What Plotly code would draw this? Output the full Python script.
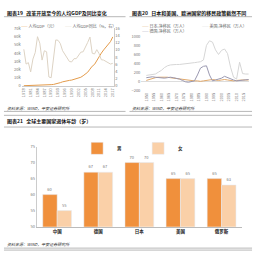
import plotly.graph_objects as go

FONT = "Noto Sans CJK SC"

# ---- Chart 19: GDP per capita and growth ----
gdp_years = list(range(1978, 2018))
gdp_pc = [385, 423, 468, 497, 533, 588, 702, 866, 973, 1123, 1378, 1536, 1663, 1912,
          2334, 3027, 4081, 5091, 5898, 6481, 6860, 7229, 7942, 8717, 9506, 10666,
          12487, 14368, 16738, 20505, 24121, 26222, 30876, 36403, 40007, 43852, 47203,
          50251, 53935, 59660]
gdp_growth = [10.2, 6.1, 6.5, 3.9, 7.5, 9.3, 13.7, 11.9, 7.2, 9.8, 9.5, 2.5, 2.3, 7.7,
              12.8, 12.7, 11.8, 9.8, 8.8, 8.1, 6.8, 6.7, 7.6, 7.6, 8.4, 9.4, 9.5, 10.7,
              12.1, 13.6, 9.1, 8.9, 10.1, 9.0, 7.3, 7.2, 6.8, 6.4, 6.1, 6.3]

# ---- Chart 20: net migration ----
mig_years = list(range(1950, 2019, 2))
japan = [30, 50, 80, 90, 100, 100, 110, 100, 90, 80, 70, 60, 50, 40, 30, 30, 20, 20,
         10, 20, 30, 40, 50, 40, 30, 40, 50, 40, 30, 20, 30, 40, 40, 40, 40]
usa = [140, 150, 155, 170, 210, 250, 310, 350, 370, 380, 380, 380, 385, 390, 400, 410,
       420, 430, 440, 480, 800, 900, 870, 700, 600, 690, 720, 620, 320, 100, 60, 430,
       180, 170, 170]
germany = [90, 100, 110, 100, 90, 80, 80, 90, 100, 90, 80, 60, 30, 0, -10, 0, 20, 150,
           300, 340, 350, 150, 20, 40, 60, 80, 120, 90, 60, 40, 20, 30, 40, 50, 50]

# ---- Chart 21: retirement age ----
countries = ["中国", "德国", "日本", "美国", "俄罗斯"]
male_age = [60, 67, 70, 65, 65]
female_age = [55, 67, 70, 65, 63]

C_GDP, C_GROW = "#E39B4B", "#DDD3C4"
C_JP, C_US, C_DE = "#E0A86A", "#D6D6D6", "#9A98B0"

fig = go.Figure()

fig.add_trace(go.Scatter(x=gdp_years, y=gdp_pc, mode="lines", name="人均GDP（元）",
                         line=dict(color=C_GDP, width=1), xaxis="x", yaxis="y",
                         showlegend=False))
fig.add_trace(go.Scatter(x=gdp_years, y=gdp_growth, mode="lines", name="人均GDP同比（%，右）",
                         line=dict(color=C_GROW, width=1), xaxis="x", yaxis="y2",
                         showlegend=False))

fig.add_trace(go.Scatter(x=mig_years, y=japan, mode="lines", name="日本:净移民（万人）",
                         line=dict(color=C_JP, width=1), xaxis="x3", yaxis="y3",
                         showlegend=False))
fig.add_trace(go.Scatter(x=mig_years, y=usa, mode="lines", name="美国:净移民（万人）",
                         line=dict(color=C_US, width=1), xaxis="x3", yaxis="y3",
                         showlegend=False))
fig.add_trace(go.Scatter(x=mig_years, y=germany, mode="lines", name="德国:净移民（万人）",
                         line=dict(color=C_DE, width=1), xaxis="x3", yaxis="y3",
                         showlegend=False))

fig.add_trace(go.Bar(x=countries, y=male_age, name="男", marker_color="#F0903C",
                     text=male_age, textposition="outside",
                     textfont=dict(size=4, color="#777"), cliponaxis=False,
                     xaxis="x4", yaxis="y4"))
fig.add_trace(go.Bar(x=countries, y=female_age, name="女", marker_color="#FAD0A8",
                     text=female_age, textposition="outside",
                     textfont=dict(size=4, color="#777"), cliponaxis=False,
                     xaxis="x4", yaxis="y4"))

tick_font = dict(size=4, color="#777", family=FONT)

def py(y):
    return 1 - y / 255.0

fig.update_layout(
    width=255, height=255, margin=dict(l=0, r=0, t=0, b=0),
    paper_bgcolor="white", plot_bgcolor="white",
    font=dict(family=FONT, size=4, color="#555"),
    barmode="group", bargap=0.3, bargroupgap=0.0,
    xaxis=dict(domain=[20/255, 113/255], anchor="y", range=[1977.1, 2017.4],
               tickvals=list(range(1978, 2018, 3)), tickangle=-90, tickfont=tick_font,
               showgrid=False, showline=True, linecolor="#CCC", linewidth=0.5,
               ticks="", zeroline=False),
    yaxis=dict(domain=[py(84), py(25)], anchor="x", range=[0, 70000], dtick=10000,
               tickfont=tick_font, showgrid=False, zeroline=False, showline=False,
               ticks=""),
    yaxis2=dict(overlaying="y", side="right", anchor="x", range=[0, 16], dtick=2,
                tickfont=tick_font, showgrid=False, zeroline=False, showline=True,
                linecolor="#CCC", linewidth=0.5, ticks=""),
    xaxis3=dict(domain=[141/255, 250/255], anchor="y3", range=[1946.7, 2018.3],
                tickvals=list(range(1950, 2016, 5)), tickangle=-90, tickfont=tick_font,
                showgrid=False, showline=False, ticks="", zeroline=False),
    yaxis3=dict(domain=[py(89), py(33)], anchor="x3", range=[-200, 1000], dtick=200,
                tickfont=tick_font, showgrid=False, zeroline=True, zerolinecolor="#DDD",
                zerolinewidth=0.5, showline=False, ticks=""),
    xaxis4=dict(domain=[35/255, 243/255], anchor="y4",
                tickfont=dict(size=4.5, color="#222", family=FONT, weight="bold"),
                showgrid=False, showline=True, linecolor="#BBB", linewidth=0.6, ticks=""),
    yaxis4=dict(domain=[py(228), py(146)], anchor="x4", range=[50, 75], dtick=5,
                tickfont=tick_font, showgrid=False, zeroline=False, showline=True,
                linecolor="#CCC", linewidth=0.6, ticks=""),
    showlegend=True,
    legend=dict(orientation="h", x=76/255, y=py(133), xanchor="left", yanchor="top",
                font=dict(size=4.5, color="#333", family=FONT, weight="bold"),
                bgcolor="rgba(0,0,0,0)", itemwidth=30, entrywidth=16),
)

titles = [
    (3/255, py(9), "图表19   改革开放至今的人均GDP及同比变化"),
    (130/255, py(9), "图表20   日本和美国、欧洲国家的移民政策截然不同"),
    (3/255, py(120), "图表21   全球主要国家退休年龄（岁）"),
]
for x, y, t in titles:
    fig.add_annotation(x=x, y=y, xref="paper", yref="paper", text="<b>" + t + "</b>",
                       showarrow=False, xanchor="left", yanchor="middle",
                       font=dict(size=5, color="#111", family=FONT))

legend_items = [
    (17, 23, C_GDP, "人均GDP（元）"),
    (62, 23, C_GROW, "人均GDP同比（%，右）"),
    (140, 23, C_JP, "日本:净移民（万人）"),
    (200, 23, C_US, "美国:净移民（万人）"),
    (140, 28, C_DE, "德国:净移民（万人）"),
]
for x, y, c, t in legend_items:
    fig.add_annotation(x=x/255, y=py(y), xref="paper", yref="paper",
                       text=f"<span style='color:{c}'>——</span> {t}",
                       showarrow=False, xanchor="left", yanchor="middle",
                       font=dict(size=4, color="#666", family=FONT))

sources = [(3/255, py(107)), (130/255, py(107)), (3/255, py(246))]
for x, y in sources:
    fig.add_annotation(x=x, y=y, xref="paper", yref="paper",
                       text="<i>资料来源：WIND，平安证券研究所</i>",
                       showarrow=False, xanchor="left", yanchor="middle",
                       font=dict(size=4, color="#333", family=FONT))

lines = [
    (2, 125, 13), (129, 253, 13),
    (2, 125, 110), (129, 253, 110),
    (2, 253, 114), (2, 253, 126),
    (2, 253, 250), (2, 253, 252),
]
for x0, x1, y in lines:
    fig.add_shape(type="line", xref="paper", yref="paper", x0=x0/255, x1=x1/255,
                  y0=py(y), y1=py(y), line=dict(color="#888", width=0.6))

fig.write_html("out.html")
